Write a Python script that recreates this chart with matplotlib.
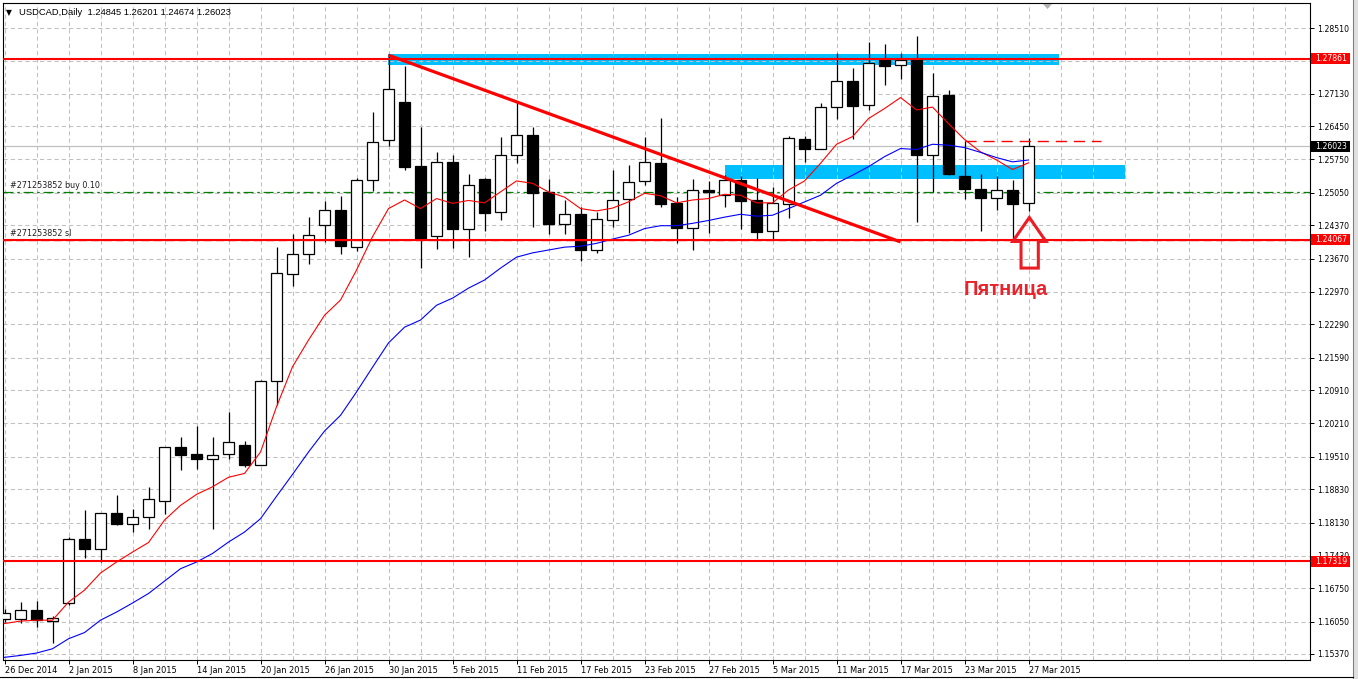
import os
import matplotlib
matplotlib.use('Agg')
import matplotlib.pyplot as plt
import matplotlib.transforms as mtransforms
from matplotlib.patches import Rectangle, Polygon
from matplotlib import font_manager as fm
from matplotlib.font_manager import FontProperties

# ---------------- data ----------------
symbol = "USDCAD,Daily"
date_labels = ['26 Dec 2014', '2 Jan 2015', '8 Jan 2015', '14 Jan 2015', '20 Jan 2015',
               '26 Jan 2015', '30 Jan 2015', '5 Feb 2015', '11 Feb 2015', '17 Feb 2015',
               '23 Feb 2015', '27 Feb 2015', '5 Mar 2015', '11 Mar 2015', '17 Mar 2015',
               '23 Mar 2015', '27 Mar 2015']

opens = [1.1610, 1.1610, 1.1630, 1.1607, 1.1645, 1.1778, 1.1758, 1.1832, 1.1810, 1.1824,
         1.1859, 1.1971, 1.1956, 1.1947, 1.1956, 1.1975, 1.1934, 1.2109, 1.2334, 1.2376,
         1.2437, 1.2470, 1.2392, 1.2531, 1.2615, 1.2696, 1.2561, 1.2414, 1.2569, 1.2430,
         1.2534, 1.2465, 1.2584, 1.2626, 1.2507, 1.2439, 1.2460, 1.2384, 1.2449, 1.2493,
         1.2529, 1.2567, 1.2484, 1.2432, 1.2511, 1.2500, 1.2532, 1.2490, 1.2424, 1.2481,
         1.2618, 1.2598, 1.2685, 1.2740, 1.2689, 1.2785, 1.2773, 1.2785, 1.2585, 1.2710,
         1.2540, 1.2514, 1.2495, 1.2511, 1.24845]
highs = [1.1631, 1.1646, 1.1648, 1.1616, 1.1782, 1.1839, 1.1834, 1.1870, 1.1841, 1.1887,
         1.1972, 1.1992, 1.2016, 1.1992, 1.2045, 1.1984, 1.2112, 1.2391, 1.2418, 1.2454,
         1.2488, 1.2498, 1.2536, 1.2675, 1.2796, 1.2772, 1.2644, 1.2591, 1.2585, 1.2544,
         1.2536, 1.2623, 1.2696, 1.2643, 1.2534, 1.2489, 1.2476, 1.2465, 1.2553, 1.2563,
         1.2623, 1.2662, 1.2496, 1.2534, 1.2530, 1.2542, 1.2541, 1.2537, 1.2517, 1.2624,
         1.2624, 1.2693, 1.2798, 1.2767, 1.2822, 1.2817, 1.2798, 1.2835, 1.2757, 1.2721,
         1.2614, 1.2544, 1.2540, 1.2532, 1.26201]
lows = [1.1604, 1.1602, 1.1594, 1.1560, 1.1639, 1.1739, 1.1730, 1.1808, 1.1793, 1.1800,
        1.1831, 1.1923, 1.1926, 1.1800, 1.1947, 1.1930, 1.1933, 1.2059, 1.2309, 1.2356,
        1.2402, 1.2377, 1.2383, 1.2509, 1.2604, 1.2553, 1.2347, 1.2388, 1.2390, 1.2371,
        1.2425, 1.2448, 1.2568, 1.2434, 1.2419, 1.2418, 1.2361, 1.2378, 1.2434, 1.2420,
        1.2521, 1.2476, 1.2399, 1.2385, 1.2420, 1.2476, 1.2430, 1.2407, 1.2407, 1.2453,
        1.2570, 1.2596, 1.2659, 1.2617, 1.2679, 1.2731, 1.2745, 1.2444, 1.2506, 1.2542,
        1.2493, 1.2425, 1.2469, 1.2406, 1.24674]
closes = [1.1623, 1.1630, 1.1608, 1.1612, 1.1779, 1.1758, 1.1832, 1.1810, 1.1824, 1.1862,
          1.1971, 1.1955, 1.1947, 1.1954, 1.1982, 1.1934, 1.2110, 1.2336, 1.2376, 1.2416,
          1.2470, 1.2394, 1.2531, 1.2611, 1.2724, 1.2560, 1.2411, 1.2569, 1.2430, 1.2521,
          1.2462, 1.2584, 1.2626, 1.2505, 1.2440, 1.2460, 1.2384, 1.2451, 1.2491, 1.2527,
          1.2569, 1.2482, 1.2432, 1.2510, 1.2507, 1.2531, 1.2488, 1.2423, 1.2484, 1.2620,
          1.2598, 1.2685, 1.2740, 1.2688, 1.2778, 1.2772, 1.2784, 1.2585, 1.2708, 1.2544,
          1.2514, 1.2495, 1.2510, 1.2482, 1.26023]

ma_fast = [1.1601, 1.1606, 1.1608, 1.1608, 1.1646, 1.1671, 1.1707, 1.1730, 1.1751, 1.1771,
           1.1818, 1.1849, 1.1872, 1.1888, 1.1908, 1.1916, 1.1961, 1.2056, 1.2140, 1.2196,
           1.2248, 1.2280, 1.2343, 1.2413, 1.2472, 1.2490, 1.2472, 1.2493, 1.2483, 1.2489,
           1.2484, 1.2507, 1.2530, 1.2525, 1.2507, 1.2496, 1.2472, 1.2467, 1.2473, 1.2486,
           1.2504, 1.2499, 1.2484, 1.2490, 1.2493, 1.2502, 1.2500, 1.2484, 1.2484, 1.2511,
           1.2530, 1.2567, 1.2607, 1.2623, 1.2661, 1.2682, 1.2705, 1.2679, 1.2685, 1.2650,
           1.2617, 1.2591, 1.2574, 1.2554, 1.2568]
ma_slow = [1.1530, 1.1534, 1.1539, 1.1548, 1.1569, 1.1582, 1.1608, 1.1625, 1.1644, 1.1664,
           1.1690, 1.1716, 1.1730, 1.1748, 1.1772, 1.1793, 1.1821, 1.1868, 1.1914, 1.1961,
           1.2005, 1.2038, 1.2087, 1.2139, 1.2190, 1.2223, 1.2238, 1.2269, 1.2284, 1.2305,
           1.2322, 1.2347, 1.2370, 1.2379, 1.2385, 1.2391, 1.2393, 1.2399, 1.2408, 1.2416,
           1.2430, 1.2436, 1.2436, 1.2441, 1.2447, 1.2454, 1.2460, 1.2456, 1.2458, 1.2472,
           1.2486, 1.2500, 1.2525, 1.2542, 1.2560, 1.2581, 1.2598, 1.2596, 1.2607, 1.2605,
           1.2600, 1.2590, 1.2579, 1.2570, 1.2574]

ytick_values = [1.28510, 1.27810, 1.27130, 1.26450, 1.25750, 1.25050, 1.24370,
                1.23670, 1.22970, 1.22290, 1.21590, 1.20910, 1.20210, 1.19510,
                1.18830, 1.18130, 1.17430, 1.16750, 1.16050, 1.15370]
# 1.27810 is hidden behind the 1.27861 price box in the reference
ytick_labels = ['1.28510', '', '1.27130', '1.26450', '1.25750', '1.25050', '1.24370',
                '1.23670', '1.22970', '1.22290', '1.21590', '1.20910', '1.20210', '1.19510',
                '1.18830', '1.18130', '1.17430', '1.16750', '1.16050', '1.15370']

level_lines = [1.27861, 1.24067, 1.17319]
current_price = 1.26023
order_price = 1.2507
order_label = '#271253852 buy 0.10'
sl_label = '#271253852 sl'
zone_top = (23.97, 65.9, 1.2773, 1.2796)      # x0, x1, y0, y1
zone_mid = (45.0, 70.0, 1.2534, 1.2563)
trend = ((24, 1.2794), (56, 1.2402))
dash_level = (60, 68.5, 1.2614)
friday_text = 'Пятница'

# ---------------- fonts ----------------
def find_narrow():
    files = [f.fname for f in fm.fontManager.ttflist]
    prefs = ['liberationsansnarrow-regular', 'dejavusanscondensed.ttf',
             'robotocondensed-regular', 'opensans_condensed-regular',
             'opensanscondensed-regular', 'notosans-condensed.ttf',
             'notosans-condensed-regular', 'roboto_condensed-regular']
    for p in prefs:
        for f in files:
            if p in os.path.basename(f).lower().replace(' ', ''):
                return f
    for f in files:
        b = os.path.basename(f).lower()
        if ('narrow' in b or 'condensed' in b) and not any(
                s in b for s in ('bold', 'italic', 'oblique', 'light', 'thin', 'black',
                                 'medium', 'semi', 'extra')):
            return f
    return None

narrow_file = find_narrow()

def axis_prop(size):
    if narrow_file:
        return FontProperties(fname=narrow_file, size=size)
    return FontProperties(family='Liberation Sans', size=size)

plt.rcParams['font.family'] = ['Liberation Sans', 'DejaVu Sans']

W, H = 1358, 679
fig = plt.figure(figsize=(W / 100, H / 100), dpi=100)
fig.patch.set_facecolor('white')
renderer = fig.canvas.get_renderer()

def width_px(s, prop):
    t = fig.text(0, 0, s, fontproperties=prop)
    w = t.get_window_extent(renderer).width
    t.remove()
    return w

ysize = 8 * 32.0 / width_px('1.28510', axis_prop(8))
xsize = 8 * 52.0 / width_px('26 Dec 2014', axis_prop(8))
osize = 8 * 90.0 / width_px(order_label, axis_prop(8))
yprop = axis_prop(ysize)
xprop = axis_prop(xsize)
oprop = axis_prop(osize)
hdr = f"{symbol}  {opens[-1]:.5f} {highs[-1]:.5f} {lows[-1]:.5f} {closes[-1]:.5f}"
hsize = 7 * 212.0 / width_px(hdr, FontProperties(family='Liberation Sans', size=7))

ax = fig.add_axes([3 / W, 19 / H, 1307 / W, 657 / H])
ax.set_xlim(-0.094, 81.59)
ax.set_ylim(1.15244, 1.29035)
k = (1.29035 - 1.15244) / 657.0   # price per pixel

n = len(opens)
RED = '#ff0000'

# background zones
for (x0, x1, y0, y1) in (zone_top, zone_mid):
    ax.add_patch(Rectangle((x0, y0), x1 - x0, y1 - y0, facecolor='#00bfff',
                           edgecolor='none', zorder=0.5))

# grid
grid_ls = (0, (4, 3))
for xv in range(0, 82, 2):
    ax.axvline(xv, color='#c0c0c0', lw=0.75, ls=grid_ls, zorder=1)
for yv in ytick_values:
    ax.axhline(yv, color='#c0c0c0', lw=0.75, ls=grid_ls, zorder=1)

# current price line and order line
ax.axhline(current_price, color='#c0c0c0', lw=0.9, zorder=1.2)
ax.axhline(order_price, color='#008000', lw=0.9, ls=(0, (8, 3, 2, 3)), zorder=1.3)

# candles
bw = 0.64
for i in range(n):
    o, h, l, c = opens[i], highs[i], lows[i], closes[i]
    ax.plot([i, i], [l, h], color='black', lw=0.9, zorder=3, solid_capstyle='butt')
    bottom = min(o, c)
    height = max(abs(c - o), k * 0.8)
    fc = 'white' if c >= o else 'black'
    ax.add_patch(Rectangle((i - bw / 2, bottom), bw, height, facecolor=fc,
                           edgecolor='black', lw=0.9, zorder=3.5))

# moving averages
xs = list(range(n))
ax.plot(xs, ma_fast, color='#ff0000', lw=0.8, zorder=4)
ax.plot(xs, ma_slow, color='#0000ff', lw=0.8, zorder=4)

# level lines
for lv in level_lines:
    ax.axhline(lv, color=RED, lw=1.5, zorder=5)
ax.axhline(level_lines[1] - k * 0.8, color=RED, lw=1.0, ls=(0, (6, 3)), zorder=5)

# trend line
ax.plot([trend[0][0], trend[1][0]], [trend[0][1], trend[1][1]], color=RED, lw=2.3,
        zorder=5, solid_capstyle='butt')
# dashed level from bar high
ax.plot([dash_level[0], dash_level[1]], [dash_level[2], dash_level[2]], color=RED,
        lw=1.0, ls=(0, (8, 5)), zorder=5)

# order labels
ax.text(0.35, order_price + k * 1.5, order_label, fontproperties=oprop,
        va='bottom', ha='left', color='#202020', zorder=6)
ax.text(0.35, level_lines[1] + k * 1.5, sl_label, fontproperties=oprop,
        va='bottom', ha='left', color='#202020', zorder=6)

# arrow pointing to the last (Friday) candle
xc = n - 1 + 0.05
arrow_tip = closes[-1] - 0.0149
head_base = arrow_tip - 24 * k
shaft_bot = head_base - 26.6 * k
poly = [(xc, arrow_tip), (xc + 1.04, head_base), (xc + 0.56, head_base),
        (xc + 0.56, shaft_bot), (xc - 0.52, shaft_bot), (xc - 0.52, head_base),
        (xc - 1.04, head_base)]
ax.add_patch(Polygon(poly, closed=True, facecolor='none', edgecolor='#ed1c24',
                     lw=2.2, joinstyle='miter', zorder=6))
ax.text(n - 1 - 1.4, shaft_bot - 21 * k, friday_text, fontsize=14.5, fontweight='bold',
        color='#e8232c', ha='center', va='center', zorder=6)

# axes styling
for sp in ax.spines.values():
    sp.set_color('black')
    sp.set_linewidth(0.8)
ax.yaxis.tick_right()
ax.set_yticks(ytick_values)
ax.set_yticklabels(ytick_labels, fontproperties=yprop)
ax.tick_params(axis='y', direction='out', length=3, width=0.7, pad=2, colors='black')
ax.set_xticks(list(range(0, 4 * len(date_labels), 4)))
ax.set_xticklabels(date_labels, fontproperties=xprop, ha='left')
ax.tick_params(axis='x', direction='out', length=3, width=0.7, pad=1.5, colors='black')

# price boxes on the right scale
trans = mtransforms.blended_transform_factory(fig.transFigure, ax.transData)
boxes = [(level_lines[0], RED), (current_price, 'black'), (level_lines[1], RED),
         (level_lines[2], RED)]
for val, col in boxes:
    ax.add_patch(Rectangle((1311 / W, val - 5.5 * k), 39 / W, 11 * k, transform=trans,
                           facecolor=col, edgecolor='none', clip_on=False, zorder=10))
    ax.text(1315 / W, val, f'{val:.5f}', transform=trans, color='white',
            fontproperties=yprop, va='center', ha='left', clip_on=False, zorder=11)

# header
fig.text(19 / W, 1 - 12.5 / H, hdr, fontsize=hsize, va='center', ha='left', color='black')
fig.text(6 / W, 1 - 12.5 / H, '▼', fontsize=5.5, family=['DejaVu Sans'], va='center',
         ha='left', color='black')
fig.add_artist(Polygon([(1043 / W, 1 - 4 / H), (1052 / W, 1 - 4 / H), (1047.5 / W, 1 - 9 / H)],
                       closed=True, transform=fig.transFigure, facecolor='#b0b0b0',
                       edgecolor='none'))

# window frame
fig.add_artist(Rectangle((1353 / W, 0), 5 / W, 1, transform=fig.transFigure,
                         facecolor='#e0e0e0', edgecolor='none'))
fig.add_artist(plt.Line2D([1352.5 / W, 1352.5 / W], [0, 1], transform=fig.transFigure,
                          color='#808080', lw=0.8))
fig.add_artist(plt.Line2D([0, 1352.5 / W], [1 - 676.5 / H, 1 - 676.5 / H],
                          transform=fig.transFigure, color='black', lw=0.8))

fig.savefig('out.png', dpi=100, facecolor='white')
